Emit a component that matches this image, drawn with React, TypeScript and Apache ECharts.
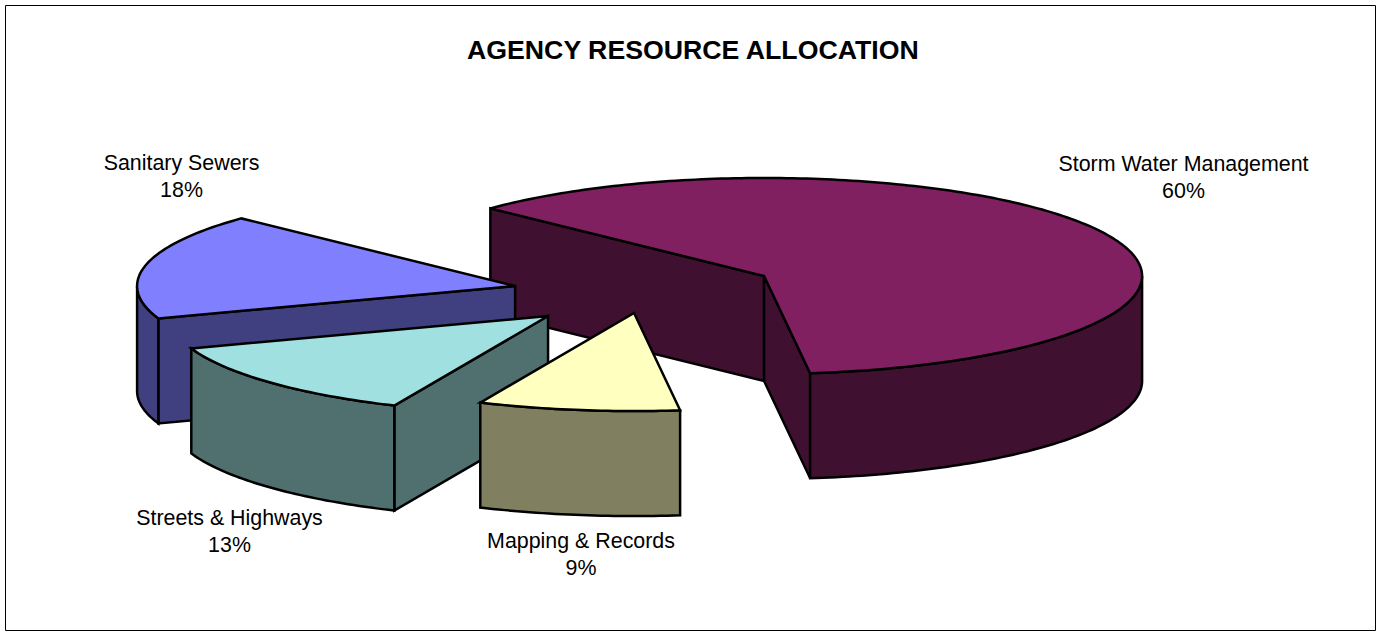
import React, { useEffect, useRef } from "react";
import * as echarts from "echarts";

const titleText = "AGENCY RESOURCE ALLOCATION";
const categories = ["Storm Water Management", "Mapping & Records", "Streets & Highways", "Sanitary Sewers"];
const shares = [60, 9, 13, 18];

const topColors = ["#802060", "#FFFFC0", "#A0E0E0", "#8080FF"];
const sideColors = ["#401030", "#808060", "#507070", "#404080"];
// The 3D view foreshortens each slice's apparent sweep a little (degrees).
const perspectiveSkew = [3.4, -1.4, -0.1, -1.9];
const explodeDistances = [127.7, 108, 138.6, 138];
const explodeTilts = [0.253, 0.211, 0.272, 0.155];
const labelAnchors = [[1183.5, 177], [581, 554], [229.5, 531], [181.5, 176]];
const paintOrder = [0, 3, 2, 1];

const START_DEG = -136.4;
const CX = 650, CY = 290.5, RX = 378, RY = 98, DEPTH = 105;
const FONT = '"Liberation Sans", Arial, sans-serif';

const rad = (d: number) => (d * Math.PI) / 180;
const total = shares.reduce((a, b) => a + b, 0);
const sweeps = shares.map((v, i) => (v / total) * 360 + perspectiveSkew[i]);
const ranges = sweeps.map((s, i) => {
  const before = sweeps.slice(0, i).reduce((a, b) => a + b, 0);
  return [START_DEG + before, START_DEG + before + s];
});

function arcPoints(ox: number, oy: number, a: number, b: number): number[][] {
  const n = Math.max(2, Math.ceil(Math.abs(b - a)));
  const pts: number[][] = [];
  for (let k = 0; k <= n; k++) {
    const t = rad(a + ((b - a) * k) / n);
    pts.push([ox + RX * Math.cos(t), oy + RY * Math.sin(t)]);
  }
  return pts;
}

function renderSlice(params: any, api: any) {
  const i = api.value(0);
  const [a, b] = ranges[i];
  const mid = rad((a + b) / 2);
  const e = explodeDistances[i];
  const ox = CX + e * Math.cos(mid);
  const oy = CY + e * explodeTilts[i] * Math.sin(mid);
  const lineStyle = { stroke: "#000", lineWidth: 2.5, lineJoin: "miter", miterLimit: 4 };
  const poly = (pts: number[][], fill: string) => ({
    type: "polygon",
    shape: { points: pts },
    style: { ...lineStyle, fill },
  });
  const children: any[] = [];
  const wall = (deg: number) => {
    const t = rad(deg);
    const x = ox + RX * Math.cos(t);
    const y = oy + RY * Math.sin(t);
    children.push(poly([[ox, oy], [x, y], [x, y + DEPTH], [ox, oy + DEPTH]], sideColors[i]));
  };
  if (Math.sin(rad(a - 90)) > 0) wall(a);
  if (Math.sin(rad(b + 90)) > 0) wall(b);
  const rimA = Math.max(a, 0);
  const rimB = Math.min(b, 180);
  if (rimB > rimA) {
    const front = arcPoints(ox, oy, rimA, rimB);
    const back = front.map(([x, y]) => [x, y + DEPTH]).reverse();
    children.push(poly([...front, ...back], sideColors[i]));
  }
  children.push(poly([[ox, oy], ...arcPoints(ox, oy, a, b)], topColors[i]));
  return { type: "group", children };
}

export default function App() {
  const ref = useRef<HTMLDivElement>(null);
  useEffect(() => {
    const chart = echarts.init(ref.current!, undefined, { renderer: "svg" });
    chart.setOption({
      animation: false,
      backgroundColor: "#fff",
      title: {
        text: titleText,
        left: 462,
        top: 31,
        textStyle: { fontFamily: FONT, fontSize: 26.7, fontWeight: "bold", color: "#000" },
      },
      graphic: [
        {
          type: "rect",
          z: 0,
          shape: { x: 5.5, y: 5.5, width: 1370, height: 625 },
          style: { fill: "none", stroke: "#000", lineWidth: 1 },
        },
        ...categories.map((name, i) => ({
          type: "text",
          z: 10,
          x: labelAnchors[i][0],
          y: labelAnchors[i][1],
          style: {
            text: `${name}\n${shares[i]}%`,
            fontFamily: FONT,
            fontSize: 21.4,
            lineHeight: 27,
            fill: "#000",
            align: "center",
            verticalAlign: "middle",
          },
        })),
      ],
      series: [
        {
          type: "custom",
          coordinateSystem: "none",
          renderItem: renderSlice,
          silent: true,
          data: paintOrder.map((i) => [i, shares[i]]),
          encode: { value: 1 },
        },
      ],
    });
    return () => chart.dispose();
  }, []);
  return <div ref={ref} style={{ position: "fixed", left: 0, top: 0, width: 1381, height: 633 }} />;
}
